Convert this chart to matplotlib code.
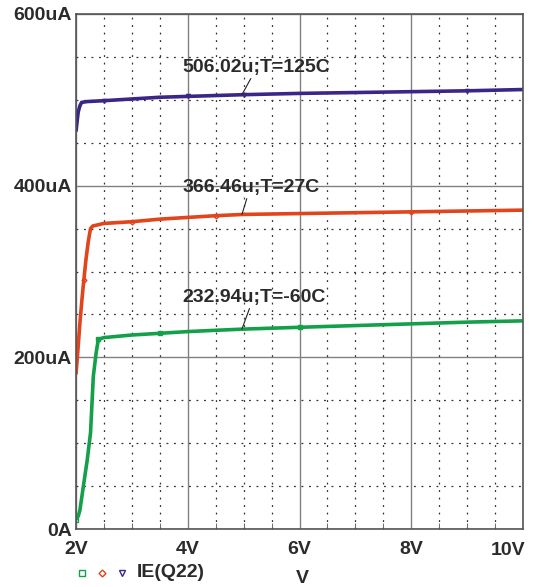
import matplotlib.pyplot as plt
from matplotlib.ticker import MultipleLocator, FuncFormatter
from matplotlib.transforms import ScaledTranslation, blended_transform_factory

# sweep voltage (V) and emitter current (uA)
v_cold = [2.00, 2.04, 2.07, 2.13, 2.20, 2.26, 2.31, 2.36, 2.40, 2.45, 2.5, 3.0, 3.5, 4.0, 4.5, 5.0, 6.0, 7.0, 8.0, 9.0, 10.0]
i_cold = [11, 15, 22, 49, 80, 112, 178, 205, 221, 222, 223, 226, 228, 230, 231.5, 232.9, 235, 237, 239, 241, 242.5]

v_room = [2.00, 2.03, 2.07, 2.11, 2.14, 2.18, 2.22, 2.26, 2.3, 2.5, 3.0, 3.5, 4.0, 4.5, 5.0, 6.0, 7.0, 8.0, 9.0, 10.0]
i_room = [180, 205, 240, 270, 290, 315, 335, 350, 353, 356, 358, 361, 363, 365, 366.5, 367.5, 368.5, 369.5, 370.5, 371.5]

v_hot = [2.00, 2.02, 2.04, 2.07, 2.10, 2.2, 2.5, 3.0, 3.5, 4.0, 4.5, 5.0, 6.0, 7.0, 8.0, 9.0, 10.0]
i_hot = [463, 475, 486, 493, 497, 498, 499, 501, 503, 504, 505, 506.0, 507.5, 508.5, 509.5, 510.5, 512]

labels = ["232.94u;T=-60C", "366.46u;T=27C", "506.02u;T=125C"]
label_vals = [232.94, 366.46, 506.02]
label_y = [270, 398, 538]

GREEN = "#14a04a"
RED = "#e2441c"
BLUE = "#3b2688"
TXT = "#2b2b2b"

plt.rcParams["font.family"] = "Liberation Sans"
plt.rcParams["font.weight"] = "bold"
plt.rcParams["font.size"] = 14

fig = plt.figure(figsize=(5.33, 5.87), dpi=100)
ax = fig.add_axes([76 / 533, 1 - 529 / 587, 447 / 533, 515 / 587])

ax.set_xlim(2, 10)
ax.set_ylim(0, 600)

ax.xaxis.set_major_locator(MultipleLocator(2))
ax.xaxis.set_minor_locator(MultipleLocator(0.5))
ax.yaxis.set_major_locator(MultipleLocator(200))
ax.yaxis.set_minor_locator(MultipleLocator(50))

ax.grid(which="major", color="#808080", lw=1.0, ls="-")
ax.grid(which="minor", color="#333333", lw=0.9, ls=(0, (1.5, 4.5)))
ax.set_axisbelow(True)

ax.plot(v_cold, i_cold, color=GREEN, lw=2.6, marker="s", ms=3, mfc="none",
        markevery=[0, 8, 12, 16], solid_capstyle="butt")
ax.plot(v_room, i_room, color=RED, lw=2.6, marker="D", ms=2.5, mfc="none",
        markevery=[4, 10, 13, 17], solid_capstyle="butt")
ax.plot(v_hot, i_hot, color=BLUE, lw=2.6, marker="v", ms=3, mfc="none",
        markevery=[6, 9, 11, 15], solid_capstyle="butt")

for lab, val, ty in zip(labels, label_vals, label_y):
    ax.annotate(lab, xy=(4.97, val), xytext=(3.9, ty), ha="left", va="center",
                color=TXT,
                arrowprops=dict(arrowstyle="-", color="#222222", lw=0.8,
                                relpos=(0.48, 0.08), shrinkA=0, shrinkB=0))

def ylab(val, pos):
    return "0A" if val == 0 else f"{int(val)}uA"

def xlab(val, pos):
    # 10V is drawn separately so it stays inside the image
    return "" if val >= 10 else f"{int(val)}V"

ax.yaxis.set_major_formatter(FuncFormatter(ylab))
ax.xaxis.set_major_formatter(FuncFormatter(xlab))

ax.tick_params(which="major", length=0, labelcolor=TXT)
ax.tick_params(axis="x", which="major", pad=9)
ax.tick_params(axis="y", which="major", pad=3)
ax.tick_params(axis="x", which="minor", direction="in", length=4, color="#555555", bottom=True)
ax.tick_params(axis="y", which="minor", length=0)

trans = blended_transform_factory(ax.transData, ax.transAxes)
trans = trans + ScaledTranslation(2 / 100, -13 / 100, fig.dpi_scale_trans)
ax.text(10, 0, "10V", transform=trans, ha="right", va="top", color=TXT)

for s in ax.spines.values():
    s.set_color("#555555")
    s.set_linewidth(1.2)

# legend row below axis
ly = -0.085
ax.plot([0.013], [ly], marker="s", ms=4, mfc="none", mec=GREEN, transform=ax.transAxes, clip_on=False)
ax.plot([0.058], [ly], marker="D", ms=3.5, mfc="none", mec=RED, transform=ax.transAxes, clip_on=False)
ax.plot([0.103], [ly], marker="v", ms=4, mfc="none", mec=BLUE, transform=ax.transAxes, clip_on=False)
ax.text(0.137, ly, "IE(Q22)", transform=ax.transAxes, ha="left", va="center", color=TXT)
ax.text(0.507, -0.097, "V", transform=ax.transAxes, ha="center", va="center", color=TXT)

fig.savefig("out.png", dpi=100)
